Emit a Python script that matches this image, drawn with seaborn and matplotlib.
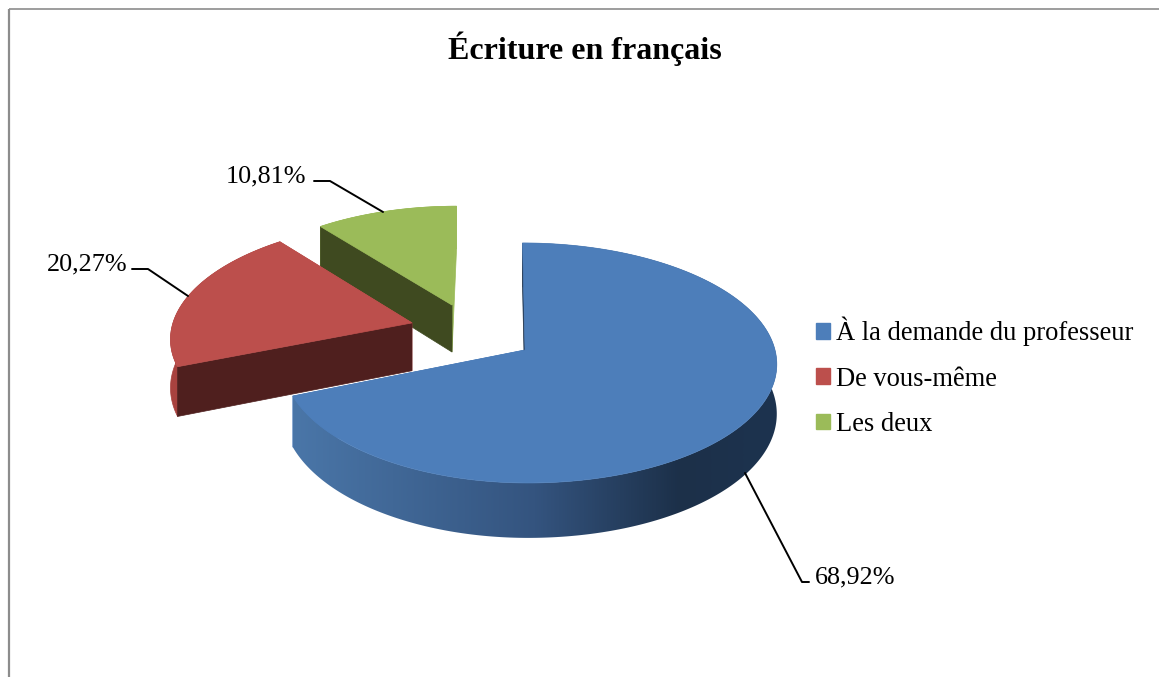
import numpy as np
import pandas as pd
import matplotlib
matplotlib.use("Agg")
import matplotlib.pyplot as plt
from matplotlib.colors import LinearSegmentedColormap
from matplotlib.patches import Patch, Polygon
import seaborn as sns

categories = ["À la demande du professeur", "De vous-même", "Les deux"]
shares = [68.92, 20.27, 10.81]
labels = ["68,92%", "20,27%", "10,81%"]
title = "Écriture en français"

sns.set_theme(style="white")
plt.rcParams["font.family"] = ["Liberation Serif", "DejaVu Serif"]
palette = sns.color_palette(["#4d7eba", "#bc4f4c", "#9bbb59"])
dark = ["#1c3049", "#4f1f1e", "#3f4a20"]
outer = ["#34547f", "#a8423f", "#9bbb59"]
blue_ramp = LinearSegmentedColormap.from_list(
    "wall", [(0, "#4a76a8"), (0.5, "#34547f"), (0.8, "#1c3049"), (1, "#1d334f")])

# projection of the tilted disc (figure pixels)
CX, CY, BX, AY, PERSP, DEPTH = 500.0, 350.0, 250.0, 118.6, 0.108, 49.0
offsets = [(0.10, 0.0), (-0.361, 0.234), (-0.20, 0.395)]
left_squeeze = [0.965, 0.98, 0.97]

fig = plt.figure(figsize=(11.59, 6.77), dpi=100, facecolor="white")
ax = fig.add_axes([0, 0, 1, 1])


def project(u, v, drop=0.0):
    w = 1 + PERSP * v
    return CX + BX * u / w, CY - AY * v / w + drop * DEPTH / w


edges = np.cumsum([0.0] + shares) / sum(shares) * 2 * np.pi
z = 1
for i in [2, 1, 0]:
    a0, a1 = edges[i], edges[i + 1]
    ou, ov = offsets[i]
    sq = left_squeeze[i]

    def unit(ang):
        s = np.sin(ang)
        return np.where(s < 0, s * sq, s), np.cos(ang)

    def cut_wall(ang, col, zo):
        seg = np.array([0.0, 1.0])
        eu, ev = unit(ang)
        pu, pv = ou + seg * eu, ov + seg * ev
        top = np.column_stack(project(pu, pv))
        bot = np.column_stack(project(pu, pv, 1.0))
        ax.add_patch(Polygon(np.vstack([top, bot[::-1]]), closed=True,
                             fc=col, ec=col, lw=0.5, zorder=zo))

    t = np.linspace(a0, a1, 360)
    su, cv = unit(t)
    u, v = ou + su, ov + cv
    xt, yt = project(u, v)
    xb, yb = project(u, v, 1.0)

    # far cut wall first (light sliver on the green slice)
    cut_wall(a1, palette[i], z)
    z += 1

    # outer curved wall
    wall = Polygon(np.vstack([np.column_stack([xt, yt]),
                              np.column_stack([xb, yb])[::-1]]),
                   closed=True, fc=outer[i], ec=outer[i], lw=0.5, zorder=z)
    ax.add_patch(wall)
    z += 1
    if i == 0:
        wall.set_facecolor("none")
        wall.set_edgecolor("none")
        grad = np.linspace(0, 1, 512).reshape(1, -1)
        im = ax.imshow(grad, cmap=blue_ramp, aspect="auto",
                       extent=(293, 777, 677, 0), zorder=z)
        im.set_clip_path(wall)
        z += 1

    # near cut wall
    cut_wall(a0, dark[i], z)
    z += 1

    # top face
    cx, cy = project(np.array(ou), np.array(ov))
    ax.add_patch(Polygon(np.vstack([[cx, cy], np.column_stack([xt, yt])]),
                         closed=True, fc=palette[i], ec=palette[i], lw=0.5, zorder=z))
    z += 1

# leader lines
leaders = pd.DataFrame({
    "x": [745, 802, 809, 188, 148, 132, 383, 330, 314],
    "y": [473, 582, 582, 296, 269, 269, 212, 181, 181],
    "s": [0, 0, 0, 1, 1, 1, 2, 2, 2],
})
for s, g in leaders.groupby("s"):
    sns.lineplot(data=g, x="x", y="y", sort=False, estimator=None, ax=ax,
                 color="black", lw=1.4, legend=False, zorder=z)
ax.set_xlim(0, 1159)
ax.set_ylim(677, 0)
ax.axis("off")

TS = 18.8
ax.text(815, 577, labels[0], fontsize=TS, va="center", ha="left", color="black")
ax.text(128, 264, labels[1], fontsize=TS, va="center", ha="right", color="black")
ax.text(306, 176, labels[2], fontsize=TS, va="center", ha="right", color="black")
ax.text(585, 49, title, fontsize=23, fontweight="bold", ha="center", va="center",
        color="black")

# chart frame
ax.plot([8.5, 8.5], [677, 8.5], color="#8c8c8c", lw=1.6, solid_capstyle="butt")
ax.plot([8.5, 1159], [8.5, 8.5], color="#8c8c8c", lw=1.2, solid_capstyle="butt")

handles = [Patch(fc=c, ec=c) for c in palette]
ax.legend(handles, categories, loc="upper left",
          bbox_to_anchor=(808 / 1159, 1 - 309 / 677),
          bbox_transform=fig.transFigure, frameon=False, fontsize=19.1,
          labelcolor="black",
          handlelength=0.53, handleheight=0.53, handletextpad=0.23,
          labelspacing=0.76, borderpad=0.3, borderaxespad=0)

fig.savefig("out.png", dpi=100)
